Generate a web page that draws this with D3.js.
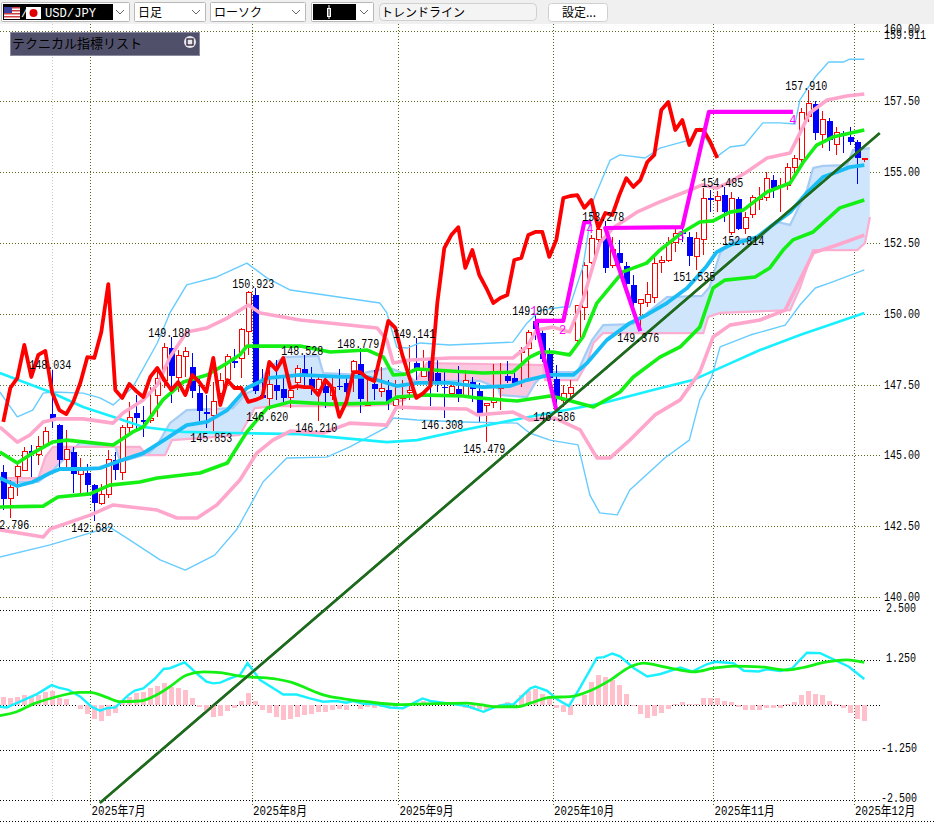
<!DOCTYPE html>
<html><head><meta charset="utf-8">
<script src="https://cdn.jsdelivr.net/npm/d3@7"></script>
<style>html,body{margin:0;padding:0;background:#fff;overflow:hidden}svg{display:block}</style>
</head><body><svg id="c" width="934" height="825"></svg>
<script>
const opens=[144.45,143.50,144.27,144.48,145.19,145.05,145.37,146.50,146.11,144.87,145.16,144.34,144.41,143.99,143.32,143.64,144.87,144.41,146.00,146.53,146.29,146.25,147.13,147.66,148.83,147.77,148.51,148.16,147.24,146.57,146.43,147.20,147.70,148.37,148.44,149.39,150.70,147.17,147.03,147.52,147.38,147.06,147.59,148.09,147.73,147.34,147.49,147.13,147.49,147.59,147.98,148.26,146.78,147.56,147.27,147.34,146.78,147.03,147.24,148.30,147.80,148.40,147.94,147.45,147.20,147.38,147.13,147.63,147.31,146.78,146.89,147.38,147.84,147.77,148.65,148.79,149.78,149.36,148.62,147.73,146.96,147.20,149.07,150.24,151.83,152.64,152.71,151.72,152.18,151.72,151.05,150.38,150.42,150.59,151.83,151.90,152.53,152.96,152.75,152.04,152.64,154.12,154.02,154.23,152.89,154.09,153.03,153.52,154.05,154.12,154.76,154.51,154.55,155.18,155.47,156.98,157.44,156.35,156.84,155.99,156.42,156.28,156.10,155.47];
const closes=[143.50,143.88,144.63,145.16,145.08,145.33,145.86,146.32,144.87,145.23,144.38,144.59,143.99,143.35,143.64,144.87,144.52,146.00,146.36,146.36,146.22,146.32,147.73,148.83,147.84,148.54,148.69,147.31,146.60,146.50,146.92,147.66,148.51,148.30,149.46,150.77,147.31,147.06,147.52,147.31,147.06,147.31,148.09,147.84,147.41,147.70,147.24,147.41,147.45,147.27,148.33,147.03,146.89,147.38,147.38,146.92,146.99,147.10,147.31,148.09,148.02,147.66,147.63,147.41,147.45,147.20,147.66,147.38,146.53,146.85,146.96,147.45,147.66,147.59,148.72,149.36,149.50,148.44,147.77,147.06,147.20,147.41,150.31,151.72,152.68,152.99,151.65,152.29,151.83,151.09,150.42,150.52,150.70,151.79,151.90,152.53,152.85,152.85,152.08,152.68,154.09,154.05,154.16,153.63,154.09,153.03,153.42,154.12,154.12,154.79,154.48,154.55,155.18,155.50,157.13,157.44,156.42,156.88,156.17,156.42,156.35,156.10,155.54,155.50];
const highs=[144.66,144.13,144.77,145.30,145.37,145.68,146.00,148.03,146.11,145.90,145.30,144.91,144.70,143.99,143.99,145.19,145.12,146.07,146.89,147.13,146.74,147.41,148.01,148.97,149.19,148.72,148.83,148.62,147.77,147.13,147.59,147.91,148.58,148.76,149.50,150.80,150.92,148.05,148.01,148.37,147.84,147.56,148.19,148.53,148.12,147.84,147.77,147.84,148.05,147.81,148.37,148.78,147.77,148.01,148.12,147.66,147.66,147.66,148.90,149.14,148.72,148.44,148.44,147.94,147.56,148.16,148.02,147.77,147.56,146.85,148.23,148.26,148.33,147.91,148.83,149.43,149.96,149.43,148.79,148.19,147.49,147.66,150.31,151.83,152.78,153.10,153.28,152.71,152.60,151.83,151.37,150.52,151.12,152.15,152.04,152.71,152.99,153.03,152.89,152.89,154.44,154.37,154.34,154.48,154.30,154.12,153.59,154.19,154.48,155.01,154.90,154.80,155.32,155.61,157.27,157.91,157.51,157.16,156.91,156.60,156.45,156.60,156.14,155.50];
const lows=[143.07,142.80,143.57,144.48,144.24,144.66,145.37,145.97,144.55,144.48,143.67,143.67,143.67,142.68,143.25,143.50,144.13,144.13,145.79,145.83,145.65,146.14,146.36,147.38,146.85,147.24,147.77,147.03,146.21,145.96,145.85,146.78,147.56,148.09,147.73,148.55,147.17,147.06,146.62,146.96,146.85,146.67,147.31,147.41,147.13,146.21,146.67,146.96,147.31,147.10,147.24,146.50,146.78,146.96,147.06,146.60,146.53,146.60,146.96,147.66,147.77,146.74,147.24,146.31,147.13,146.89,147.10,146.89,146.18,145.48,146.67,146.60,147.56,147.49,147.41,147.73,149.08,148.30,147.66,146.59,146.71,146.96,149.00,149.78,151.76,152.25,151.44,151.62,151.72,150.95,150.03,149.38,150.24,150.38,151.44,151.83,152.18,152.53,151.69,151.54,152.08,153.59,153.59,153.24,152.78,152.95,152.81,153.38,153.66,153.98,154.09,153.59,154.37,154.83,155.25,156.77,156.14,155.85,155.75,155.61,155.68,155.96,154.58,155.36];
const laggingSpan=[146.18,147.38,147.73,148.90,147.77,148.55,148.69,147.20,146.60,146.46,146.89,147.56,148.47,148.44,149.36,151.05,147.31,147.03,147.52,147.27,147.06,147.77,148.09,147.66,147.31,147.59,147.13,147.84,147.59,147.24,148.44,146.78,147.66,147.38,147.38,146.89,146.96,147.06,148.30,148.02,148.44,147.38,147.45,147.41,147.41,147.13,147.66,147.38,146.36,146.89,147.94,147.94,147.73,147.63,148.65,149.75,149.50,148.55,147.77,147.03,147.20,147.45,150.38,152.32,152.78,153.06,151.62,152.25,151.37,150.91,150.38,150.56,150.66,151.90,151.97,152.78,152.89,152.89,152.01,152.61,154.09,154.16,154.19,153.74,154.02,153.03,153.56,153.49,154.19,154.79,154.48,154.72,155.36,155.61,157.20,157.48,156.49,156.84,155.96,156.49,156.49,156.07,155.50];
const bbMid=[[-.5,144.20],[2,143.92],[4.2,144.06],[6.7,144.38],[8.1,144.52],[11.4,144.52],[13.8,144.55],[16.2,144.77],[20,145.08],[23.4,145.61],[26.2,146.07],[29.1,146.18],[32,146.60],[34.8,147.38],[37.7,147.73],[42.4,147.84],[48.5,147.77],[52,147.77],[56.2,147.45],[59.1,147.56],[63.8,147.56],[68.5,147.41],[72.4,147.45],[74.8,147.66],[78.1,147.84],[81.4,147.84],[83.4,148.26],[86.2,149.07],[89.5,149.67],[91.9,149.96],[94.8,150.38],[97.7,150.91],[100.5,151.69],[101.9,152.18],[103.8,152.43],[107.7,152.71],[109.5,153.06],[112.4,153.59],[114.8,154.27],[117.1,154.83],[119.1,155.01],[120.9,155.18],[123,155.25]];
const bbUp1=[[-.5,145.12],[2,144.73],[4.2,145.08],[7,145.47],[9.1,145.54],[15.7,145.37],[18.5,145.83],[20,146.00],[22.8,146.96],[25.7,147.59],[29.1,147.84],[32,148.26],[33.8,148.55],[34.8,148.86],[42.4,148.86],[46.7,148.65],[52,148.72],[54.3,148.47],[55.7,147.84],[57.4,147.87],[59.1,148.05],[63.8,147.98],[68.5,147.91],[72.8,147.94],[75.2,148.47],[76.7,148.65],[78.5,148.65],[80.9,148.55],[82.8,149.18],[84.8,150.38],[88.5,151.48],[91.9,151.79],[93.8,152.25],[97.1,152.89],[99.5,153.24],[101.4,153.28],[103.8,153.59],[105.7,153.66],[109.1,154.30],[112.4,154.62],[114.3,155.36],[116.2,155.96],[118.5,156.24],[123,156.49]];
const bbLow1=[[-.5,143.18],[5.7,143.21],[7.8,143.53],[12.4,143.64],[15.2,143.95],[19.5,144.06],[22,144.20],[28.1,144.38],[32,144.73],[34.8,145.83],[37.7,146.67],[41,146.89],[46.7,146.81],[54.8,146.85],[56.2,147.06],[60.5,147.13],[65.7,147.10],[67.7,147.03],[73.4,146.92],[78.1,147.10],[79.5,147.03],[84.3,146.71],[88.1,147.24],[90,147.77],[93.8,148.47],[96.7,148.83],[99.5,149.53],[101.4,150.91],[103.1,151.19],[107.4,151.30],[109.5,151.62],[111.4,152.25],[112.8,152.61],[115.7,152.89],[119.5,153.74],[123,154.02]];
const bbUp2=[[-.5,146.00],[2,145.47],[3.8,145.72],[5.7,146.18],[7.7,146.29],[11.4,146.29],[15.7,146.14],[17.1,146.50],[20,146.96],[22,147.49],[23.8,148.47],[26.2,149.36],[29.1,149.50],[32,149.85],[35,150.31],[36.7,150.03],[42.4,149.78],[53.4,149.50],[54.8,149.07],[55.7,148.26],[58.1,148.37],[63.8,148.44],[72.8,148.44],[74.8,148.83],[76.2,149.43],[78.5,149.53],[80.9,149.36],[82.8,150.49],[85.2,152.50],[87.1,153.03],[90.5,153.59],[93.8,153.95],[97.4,154.30],[99.9,154.55],[101.9,154.44],[103.8,154.65],[106.2,155.01],[109.1,155.50],[112.4,155.68],[113.8,156.38],[115.2,157.09],[117.7,157.55],[120.5,157.69],[123,157.76]];
const bbLow2=[[-.5,142.37],[5.7,142.12],[6.7,142.40],[12.4,142.89],[15.7,143.25],[22,143.07],[24.8,142.79],[27.7,142.79],[30.5,143.25],[33.8,144.13],[36.2,145.08],[38.5,145.54],[41,145.86],[45.7,145.79],[49.5,146.14],[54.8,146.07],[56.2,146.71],[59.9,146.67],[66.2,146.64],[67.7,146.43],[72.8,146.53],[75.2,146.25],[78.8,146.32],[82.4,145.90],[84.8,144.91],[86.7,144.91],[89.5,145.54],[93.1,146.43],[96.7,146.96],[99.5,147.94],[101.4,149.18],[103.8,149.60],[108.1,149.78],[111.7,150.13],[113.8,151.19],[115.7,152.15],[119.1,152.43],[123,152.78]];
const bbUp3=[[-.5,147.24],[2,146.36],[4.2,146.60],[5.7,147.20],[7.1,147.24],[11.4,147.20],[13.8,147.03],[15.7,146.78],[18.5,147.41],[22,148.97],[23.8,150.03],[26.2,151.02],[30.5,151.30],[34.8,151.79],[37.7,151.26],[41,150.84],[53.8,150.38],[54.8,150.03],[56.2,148.83],[57.7,148.79],[59.5,148.97],[63.8,148.90],[72.8,149.00],[74.8,149.67],[76.7,150.13],[80,150.24],[80.9,150.24],[82.8,151.65],[84.3,154.02],[86.7,155.43],[88.1,155.61],[91.7,155.50],[93.8,155.85],[98.1,156.14],[99.5,156.56],[101.9,155.54],[103.8,155.89],[105.9,155.96],[108.5,156.74],[111,156.74],[113.1,156.70],[113.8,157.55],[116,158.36],[117.9,158.89],[120,158.89],[120.9,158.99],[123,158.99]];
const bbLow3=[[-.5,141.41],[6.7,141.84],[15.2,142.47],[18.1,142.01],[22.4,141.31],[26,140.95],[30.2,141.48],[33.4,142.40],[37.1,144.06],[40.5,144.91],[46.2,144.94],[49.5,145.30],[54.8,146.00],[55.7,146.32],[59.1,146.25],[65.7,146.18],[73.4,146.14],[75.2,145.79],[78.1,145.54],[82.1,145.37],[83.8,143.60],[85.2,142.97],[87.7,142.90],[89.5,143.78],[94.5,144.91],[98,145.54],[99.5,146.96],[101.2,147.77],[102.4,148.83],[106.7,149.25],[111.7,149.60],[113.8,150.31],[116,150.91],[118.1,151.09],[123,151.55]];
const longMA=[[-.5,147.91],[6.7,147.24],[11.4,146.71],[16.2,146.32],[20,146.00],[25.7,145.83],[32.8,145.79],[42.4,145.75],[54.8,145.47],[59.1,145.54],[65.7,145.90],[74.3,146.32],[85.7,146.85],[92.8,147.31],[98.5,147.66],[102.4,148.09],[108.1,148.72],[113.8,149.25],[123,150.03]];
const spanA=[[-.5,144.06],[5,144.06],[7.1,144.48],[10.2,145.26],[11,145.47],[13.4,145.37],[16,145.30],[16.7,144.77],[20,145.01],[20.5,145.01],[22,145.37],[23.8,146.14],[26.2,146.60],[32.8,146.67],[34.8,147.20],[35.9,147.31],[37.7,148.01],[40,148.47],[45,148.51],[45.7,147.91],[50.9,147.84],[52,147.94],[55.2,148.09],[57.7,147.84],[59.1,147.56],[62.4,147.63],[68.1,147.63],[70.7,147.38],[71,147.13],[74.8,147.06],[76,147.56],[77.4,147.94],[82,147.94],[84.1,149.07],[85.7,149.60],[90,149.64],[94.8,150.59],[99.8,150.63],[100.9,150.95],[102.4,152.15],[104.2,152.61],[108.1,152.68],[110.5,153.24],[112.4,153.14],[114.8,154.37],[115.7,155.15],[117.1,155.22],[120.5,155.25],[121.4,155.78],[123.8,155.85]];
const spanB=[[-.5,144.20],[5,144.20],[6,144.94],[7.1,145.30],[19.5,145.30],[20.5,145.01],[23.1,145.01],[24.1,145.54],[28.1,145.61],[33.8,145.72],[35,146.25],[35.9,146.67],[38.8,146.74],[50.2,146.74],[54.8,146.78],[57.4,146.96],[59.3,147.77],[60.5,148.26],[77.1,148.19],[77.4,147.66],[82,147.66],[83.4,148.26],[84.3,148.97],[85.7,149.32],[100,149.32],[100.7,149.89],[102.4,150.03],[112.4,150.13],[113.8,150.91],[115.7,152.25],[122,152.25],[123.1,152.50],[123.8,153.42]];
const trendLine=[[13.81,132.73],[125.2,156.38]];
const zigzagA=[[76,149.75],[79,146.60]];
const zigzagB=[[76,149.75],[80,149.75],[83,153.24],[84,153.24]];
const zigzagC=[[91,149.39],[86,153.03],[97,153.06],[100.8,157.13],[112.8,157.13]];
const zigzagMarks=[[75.8,150.1,"1"],[79.9,149.43,"2"],[83.8,153.0,"4"],[96.8,152.75,"3"],[112.8,156.85,"4"]];
const pivots=[[1,142.796,"low"],[7,148.034,"high"],[13,142.682,"low"],[24,149.188,"high"],[30,145.853,"low"],[36,150.923,"high"],[38,146.620,"low"],[43,148.528,"high"],[45,146.210,"low"],[51,148.779,"high"],[59,149.141,"high"],[63,146.308,"low"],[69,145.479,"low"],[76,149.962,"high"],[79,146.586,"low"],[86,153.278,"high"],[91,149.376,"low"],[99,151.535,"low"],[103,154.485,"high"],[106,152.814,"low"],[115,157.910,"high"]];
const macdHist=[.23,.20,.23,.29,.22,.29,.37,.40,.21,.18,0,-.10,-.24,-.38,-.44,-.30,-.21,.06,.23,.35,.37,.48,.54,.62,.51,.48,.43,.20,-.04,-.19,-.32,-.30,-.15,-.07,.12,.35,.12,-.13,-.20,-.33,-.41,-.39,-.32,-.26,-.24,-.19,-.19,-.12,-.09,-.13,.01,-.10,-.06,-.07,-.04,-.06,-.08,-.03,.02,.05,.12,.07,.04,.03,.01,-.03,-.07,-.11,-.11,-.13,-.02,.05,.09,.05,.28,.39,.46,.32,.19,-.07,-.19,-.26,.03,.30,.65,.83,.79,.69,.56,.31,-.03,-.24,-.35,-.30,-.21,-.11,.03,.09,.03,.03,.19,.21,.20,.13,.09,-.06,-.12,-.12,-.13,-.08,-.07,-.08,.04,.10,.30,.40,.32,.30,.13,.05,-.08,-.20,-.37,-.44];
const macdLine=[[-.5,-.04],[.5,-.06],[1.9,.06],[4.8,.31],[6.9,.56],[7.9,.49],[9.3,.43],[11,.24],[12.6,-.04],[13.8,-.15],[14.8,-.08],[16,-.06],[17.9,.29],[18.8,.41],[20,.47],[21.7,.75],[22.9,1.01],[23.8,1.03],[25.9,1.19],[27.6,.89],[29,.66],[30,.61],[31,.63],[32.4,.75],[33.8,.84],[34.9,1.17],[36.7,.70],[40,.30],[41.9,.30],[43.8,.19],[45.7,.10],[47.6,.12],[49,.07],[50,.12],[51.4,.04],[53.3,.03],[55.2,-.06],[57.1,-.08],[59.9,.19],[61,.12],[63.3,.06],[66.2,-.02],[68.6,-.18],[70.1,-.06],[71.5,.02],[72.9,.03],[75.3,.47],[76,.52],[77.7,.40],[79.1,.17],[80.8,-.02],[82.2,.43],[84.8,1.31],[85.8,1.33],[87,1.42],[88.1,1.35],[90.1,1.03],[92,.80],[93.9,.87],[96.7,1.05],[98.4,.94],[100.5,1.14],[101.7,1.21],[104.3,1.17],[105.8,.96],[107.9,.94],[109.1,1.00],[111,.95],[112.7,1.03],[114.8,1.44],[116.7,1.43],[117.9,1.33],[120.8,1.07],[123,.73]];
const macdSignal=[[-.5,-.29],[1.9,-.18],[4.3,.04],[7.1,.21],[11,.36],[12.4,.36],[14.8,.22],[16.7,.10],[19.5,.12],[21.9,.29],[23.8,.52],[26.2,.84],[28.6,.93],[31,.91],[33.8,.81],[38.6,.74],[41.9,.59],[43.8,.43],[45.7,.29],[48.6,.18],[51.9,.10],[56.7,.02],[60.5,.04],[66.2,.06],[68.1,.02],[70.5,-.04],[73.4,-.04],[75.3,.06],[78.1,.22],[81,.24],[83.9,.41],[86.7,.70],[89.6,1.07],[91.5,1.17],[93.9,1.09],[96.7,.98],[98.6,.93],[101.5,1.03],[104.3,1.09],[108.1,1.07],[111.9,.98],[114.3,1.05],[117.2,1.19],[120.5,1.26],[123,1.19]];
const priceTicks=[140,142.5,145,147.5,150,152.5,155,157.5,160];
const priceTickLabels=["140.00","142.50","145.00","147.50","150.00","152.50","155.00","157.50","160.00"];
const macdTicks=[2.5,1.25,-1.25,-2.5];
const macdTickLabels=["2.500","1.250","-1.250","-2.500"];
const monthBars=[12.43,35.5,56.43,78.5,101.43,121.5];
const monthLabels=["2025年7月","2025年8月","2025年9月","2025年10月","2025年11月","2025年12月"];
const lastPriceLabel="159.911", lastPrice=159.911;
const toolbarTexts={pair:"USD/JPY",period:"日足",kind:"ローソク",tool:"トレンドライン",btn:"設定...",panel:"テクニカル指標リスト"};

const svg=d3.select("#c");
const x=d3.scaleLinear().domain([0,123]).range([3.3,864.3]);
const y=d3.scaleLinear().domain([140,160]).range([597,30.6]);
const m=d3.scaleLinear().domain([-2.5,-1.25,0,1.25,2.5]).range([800.3,750.3,705.3,660.3,610.3]);
const CW=881;
const MONO="'Liberation Mono','DejaVu Sans Mono',monospace";
const CJK="'Noto Sans CJK JP','Noto Sans',sans-serif";
function monoText(g,tx,ty,s,len,anchor){
  return g.append("text").attr("x",tx).attr("y",ty).attr("font-family",MONO+",'Noto Sans CJK JP'").attr("font-size",13)
   .attr("fill","#000").attr("text-anchor",anchor||"start").attr("textLength",len).attr("lengthAdjust","spacingAndGlyphs").text(s);
}
// plot area ------------------------------------------------------------
const grid=svg.append("g").attr("shape-rendering","crispEdges");
grid.selectAll(".pg").data(priceTicks).join("line").attr("x1",0).attr("x2",CW).attr("y1",d=>Math.round(y(d))+.5).attr("y2",d=>Math.round(y(d))+.5)
 .attr("stroke","#556b1f").attr("stroke-dasharray","1 2");
grid.selectAll(".mg").data([2.5,1.25,0,-1.25,-2.5]).join("line").attr("x1",0).attr("x2",CW).attr("y1",d=>Math.round(m(d))+.5).attr("y2",d=>Math.round(m(d))+.5)
 .attr("stroke","#000").attr("stroke-dasharray","1 2");
grid.append("line").attr("x1",0).attr("x2",934).attr("y1",821.5).attr("y2",821.5).attr("stroke","#000").attr("stroke-dasharray","1 2");
grid.append("line").attr("x1",52.5).attr("x2",52.5).attr("y1",24).attr("y2",805).attr("stroke","#c8c8c8").attr("stroke-dasharray","1 2");
grid.selectAll(".vg").data(monthBars).join("line").attr("x1",d=>Math.round(x(d))+.5).attr("x2",d=>Math.round(x(d))+.5).attr("y1",24).attr("y2",805)
 .attr("stroke","#556b1f").attr("stroke-dasharray","1 2");

// cloud ---------------------------------------------------------------
const lineP=d3.line().x(d=>x(d[0])).y(d=>y(d[1]));
const polyTo=(pts,edge)=>{const a=pts.map(p=>[x(p[0]),y(p[1])]);return "M"+a.map(p=>p.join(",")).join("L")+`L${a[a.length-1][0]},${edge}L${a[0][0]},${edge}Z`;};
const defs=svg.append("defs");
defs.append("clipPath").attr("id","aboveB").append("path").attr("d",polyTo(spanB,0));
defs.append("clipPath").attr("id","belowB").append("path").attr("d",polyTo(spanB,825));
const cloud=svg.append("g");
cloud.append("path").attr("d",polyTo(spanA,825)).attr("fill","#cfe5fc").attr("clip-path","url(#aboveB)");
cloud.append("path").attr("d",polyTo(spanA,0)).attr("fill","#fcc8e0").attr("clip-path","url(#belowB)");
cloud.append("path").attr("d",lineP(spanA)).attr("fill","none").attr("stroke","#a6ccf6").attr("stroke-width",2.2);
cloud.append("path").attr("d",lineP(spanB)).attr("fill","none").attr("stroke","#fbaed0").attr("stroke-width",2.2);

// candles -------------------------------------------------------------
const bars=d3.range(opens.length).map(i=>({i,o:opens[i],c:closes[i],h:highs[i],l:lows[i],up:closes[i]>=opens[i]}));
const cg=svg.append("g").attr("shape-rendering","crispEdges");
const px=d=>Math.round(x(d.i));
cg.selectAll(".w").data(bars).join("line").attr("x1",d=>px(d)+.5).attr("x2",d=>px(d)+.5).attr("y1",d=>y(d.h)).attr("y2",d=>y(d.l))
 .attr("stroke",d=>d.up?"#ff0000":"#0000ff");
cg.selectAll(".b").data(bars).join("rect")
 .attr("x",d=>px(d)-2+(d.up?0:-.5)).attr("width",d=>d.up?5:6)
 .attr("y",d=>Math.round(y(Math.max(d.o,d.c)))+.5).attr("height",d=>Math.max(1,Math.round(Math.abs(y(d.o)-y(d.c)))))
 .attr("fill",d=>d.up?"#fff":"#0000ff").attr("stroke",d=>d.up?"#ff0000":"none");

// indicator lines -----------------------------------------------------
const drawP=(pts,col,w)=>svg.append("path").attr("d",lineP(pts)).attr("fill","none").attr("stroke",col).attr("stroke-width",w).attr("stroke-linejoin","round");
drawP(bbUp3,"#66ccff",1.4); drawP(bbLow3,"#66ccff",1.4);
drawP(longMA,"#19f0ff",2.6);
drawP(bbUp2,"#ffa6cc",3.6); drawP(bbLow2,"#ffa6cc",3.6);
drawP(bbMid,"#19bdf5",3.8);
drawP(bbUp1,"#14f014",3.6); drawP(bbLow1,"#14f014",3.6);
drawP(laggingSpan.map((v,i)=>[i,v]),"#ff0000",3.8);
drawP(zigzagB,"#ff00ff",4.2); drawP(zigzagA,"#ff00ff",4.2); drawP(zigzagC,"#ff00ff",4.2);
svg.append("path").attr("d",lineP(trendLine)).attr("stroke","#1e6b1e").attr("stroke-width",2.5).attr("fill","none");
svg.selectAll(".zm").data(zigzagMarks).join("text").attr("x",d=>x(d[0])).attr("y",d=>y(d[1])+4).attr("text-anchor","middle")
 .attr("font-family",MONO).attr("font-size",12).attr("fill","#ff00ff").text(d=>d[2]);

// MACD ----------------------------------------------------------------
svg.append("g").attr("shape-rendering","crispEdges").selectAll("rect").data(macdHist).join("rect")
 .attr("x",(d,i)=>Math.round(x(i))-2).attr("width",5)
 .attr("y",d=>Math.min(m(d),m(0))).attr("height",d=>Math.abs(m(d)-m(0))).attr("fill","#ffc0cb");
const lineM=d3.line().x(d=>x(d[0])).y(d=>m(d[1]));
svg.append("path").attr("d",lineM(macdLine)).attr("fill","none").attr("stroke","#19f0ff").attr("stroke-width",2.4);
svg.append("path").attr("d",lineM.curve(d3.curveMonotoneX)(macdSignal)).attr("fill","none").attr("stroke","#14f014").attr("stroke-width",2.8);
svg.append("path").attr("d",d3.line().x(d=>x(d[0])).y(d=>y(d[1]))(trendLine)).attr("stroke","#1e6b1e").attr("stroke-width",2.5).attr("fill","none");

// texts -----------------------------------------------------------------
const tg=svg.append("g");
pivots.forEach(p=>{
  const py=y(p[1]);
  monoText(tg,x(p[0])-2,p[2]==="high"?py:py+11,p[1].toFixed(3),42,"middle");
});
priceTicks.forEach((v,i)=>{ monoText(tg,884,y(v)+4+(v===160?-2:0),priceTickLabels[i],36); });
monoText(tg,884,y(lastPrice)+6,lastPriceLabel,42);
macdTicks.forEach((v,i)=>{ const neg=v<0; monoText(tg,neg?881:886,m(v)+2,macdTickLabels[i],neg?36:30); });
monthBars.forEach((b,i)=>{ const L=monthLabels[i]; monoText(tg,x(b)+1.3,815,L,L.length===8?60:54); });

// toolbar ---------------------------------------------------------------
const tb=svg.append("g");
tb.append("rect").attr("x",0).attr("y",0).attr("width",934).attr("height",24).attr("fill","#f0f0f0");
function combo(x0,w,bw){
  tb.append("rect").attr("x",x0+.5).attr("y",2.5).attr("width",w).attr("height",19).attr("fill","#fff").attr("stroke","#b8b8b8").attr("rx",1);
  if(bw) tb.append("rect").attr("x",x0+2).attr("y",4).attr("width",bw).attr("height",16).attr("fill","#000");
  tb.append("path").attr("d",`M${x0+w-13},10l4,4l4,-4`).attr("fill","none").attr("stroke","#666");
}
combo(1,128,110);combo(134,71);combo(210,95);combo(311,62,43);
const us=tb.append("g");
us.append("rect").attr("x",4).attr("y",7).attr("width",16).attr("height",12).attr("fill","#fff");
d3.range(4).forEach(k=>us.append("rect").attr("x",4).attr("y",7+k*3).attr("width",16).attr("height",1.5).attr("fill","#d04040"));
us.append("rect").attr("x",4).attr("y",7).attr("width",8).attr("height",6).attr("fill","#4040a0");
tb.append("text").attr("x",21).attr("y",17).attr("fill","#fff").attr("font-size",11).attr("font-family",MONO).text("/");
tb.append("rect").attr("x",26).attr("y",7).attr("width",15).attr("height",12).attr("fill","#fff");
tb.append("circle").attr("cx",33.5).attr("cy",13).attr("r",4).attr("fill","#e00000");
tb.append("text").attr("x",45).attr("y",17).attr("fill","#fff").attr("font-size",12).attr("font-family",MONO).attr("textLength",51).attr("lengthAdjust","spacingAndGlyphs").text(toolbarTexts.pair);
const cjkT=(tx,ty,s,col,fs)=>tb.append("text").attr("x",tx).attr("y",ty).attr("fill",col||"#000").attr("font-size",fs||12).attr("font-family",CJK).text(s);
cjkT(138,17,toolbarTexts.period);
cjkT(214,17,toolbarTexts.kind);
tb.append("rect").attr("x",327.5).attr("y",8.5).attr("width",3).attr("height",8).attr("fill","none").attr("stroke","#fff");
tb.append("line").attr("x1",329).attr("x2",329).attr("y1",5).attr("y2",19).attr("stroke","#fff");
tb.append("rect").attr("x",379.5).attr("y",3.5).attr("width",157).attr("height",17).attr("rx",4).attr("fill","#f4f4f4").attr("stroke","#d0d0d0");
cjkT(381,17,toolbarTexts.tool);
tb.append("rect").attr("x",548.5).attr("y",3.5).attr("width",59).attr("height",18).attr("rx",3).attr("fill","#fff").attr("stroke","#d0d0d0");
cjkT(562,17,toolbarTexts.btn);
// panel
tb.append("rect").attr("x",10.5).attr("y",32.5).attr("width",189).attr("height",23).attr("fill","#50506a").attr("stroke","#8a8a9e");
tb.append("text").attr("x",12).attr("y",48).attr("fill","#000").attr("font-size",13).attr("font-family",CJK).text(toolbarTexts.panel);
tb.append("circle").attr("cx",190).attr("cy",42).attr("r",6).attr("fill","#e8e8f0");
tb.append("rect").attr("x",187).attr("y",39).attr("width",6).attr("height",6).attr("fill","none").attr("stroke","#302030").attr("stroke-width",1.3);
</script></body></html>
